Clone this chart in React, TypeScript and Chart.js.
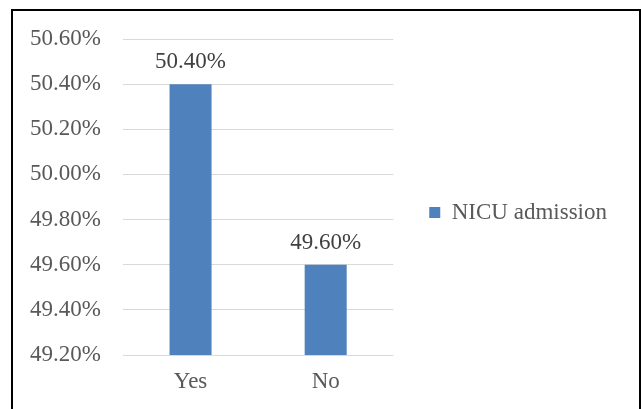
import React, { useEffect, useRef } from "react";
import { Chart, registerables } from "chart.js";

Chart.register(...registerables);

const categories = ["Yes", "No"];
const seriesName = "NICU admission";
const seriesValues = [50.4, 49.6];
const yMin = 49.2;
const yMax = 50.6;
const yStep = 0.2;

const FONT = "'Liberation Serif', 'Times New Roman', serif";
const FS = 23;

const dataLabelPlugin = {
  id: "dataLabels",
  afterDatasetsDraw(chart: any) {
    const ctx = chart.ctx;
    const meta = chart.getDatasetMeta(0);
    ctx.save();
    ctx.font = `${FS}px ${FONT}`;
    ctx.fillStyle = "#404040";
    ctx.textAlign = "center";
    ctx.textBaseline = "alphabetic";
    meta.data.forEach((bar: any, i: number) => {
      const v = chart.data.datasets[0].data[i] as number;
      ctx.fillText(v.toFixed(2) + "%", bar.x, bar.y - 16);
    });
    ctx.restore();
  },
};

export default function App() {
  const ref = useRef<HTMLCanvasElement>(null);
  useEffect(() => {
    if (!ref.current) return;
    const chart = new Chart(ref.current, {
      type: "bar",
      data: {
        labels: categories,
        datasets: [
          {
            label: seriesName,
            data: seriesValues,
            backgroundColor: "#4F81BD",
            borderWidth: 0,
            barPercentage: 0.311,
            categoryPercentage: 1,
          },
        ],
      },
      options: {
        animation: false,
        responsive: false,
        devicePixelRatio: 1,
        layout: { padding: { top: 5, bottom: 0, left: 0, right: 0 } },
        plugins: {
          tooltip: { enabled: false },
          legend: {
            position: "right",
            maxWidth: 300,
            labels: {
              boxWidth: 11,
              boxHeight: 11,
              padding: 36,
              color: "#595959",
              font: { family: FONT, size: FS },
            },
          },
        },
        scales: {
          x: {
            grid: { display: false, drawTicks: false },
            border: { display: false },
            ticks: {
              color: "#595959",
              padding: 13,
              font: { family: FONT, size: FS },
            },
          },
          y: {
            min: yMin,
            max: yMax,
            border: { display: false },
            grid: { color: "#D9D9D9", lineWidth: 1, drawTicks: false },
            afterFit(scale: any) {
              scale.width = 110;
              scale.paddingTop = 28;
              scale.paddingBottom = 54;
            },
            ticks: {
              stepSize: yStep,
              color: "#595959",
              padding: 22,
              font: { family: FONT, size: FS },
              callback: (v: any) => Number(v).toFixed(2) + "%",
            },
          },
        },
      },
      plugins: [dataLabelPlugin],
    });
    return () => chart.destroy();
  }, []);

  return (
    <div style={{ position: "fixed", left: 0, top: 0, width: 641, height: 409, background: "#fff", overflow: "hidden" }}>
      <div
        style={{
          position: "absolute",
          left: 11,
          top: 9,
          width: 630,
          height: 420,
          border: "2px solid #000",
          boxSizing: "border-box",
          overflow: "hidden",
        }}
      >
        <canvas ref={ref} width={604} height={398} style={{ position: "absolute", left: 0, top: 0 }} />
      </div>
    </div>
  );
}
